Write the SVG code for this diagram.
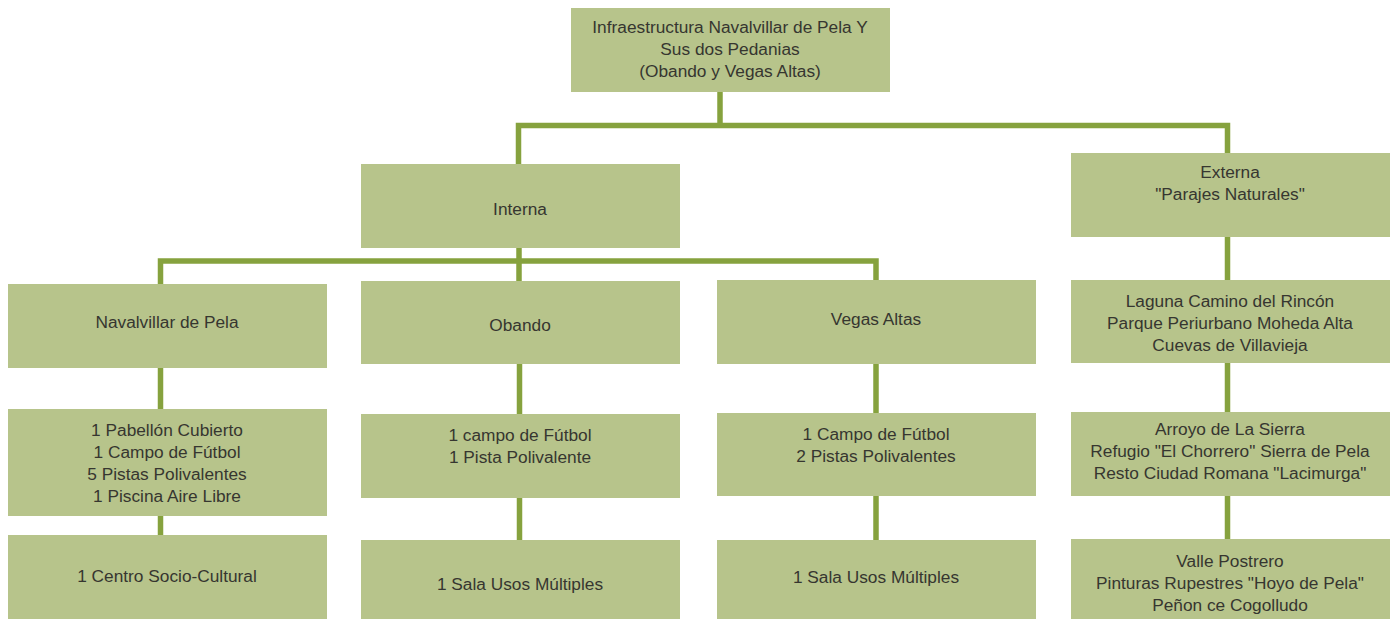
<svg xmlns="http://www.w3.org/2000/svg" width="1393" height="619" viewBox="0 0 1393 619">
<style>
.box{fill:#b7c48b}
.t{font-family:"Liberation Sans",Arial,sans-serif;font-size:17.3px;fill:#363630;text-anchor:middle}
.c{stroke:#86a23e;stroke-width:5.5;fill:none;stroke-linecap:square}
</style>
<rect width="1393" height="619" fill="#ffffff"/>
<g id="connectors">
<path class="c" d="M720 92V125.5M518.5 125.5H1227.5M518.5 125.5V164M1227.5 125.5V153"/>
<path class="c" d="M519 248V261M160.5 261H876M160.5 261V284M519 261V281M876 261V280"/>
<path class="c" d="M160.5 368V409M160.5 516V535"/>
<path class="c" d="M519.5 364V414M519.5 498V540"/>
<path class="c" d="M876 364V413M876 496V540"/>
<path class="c" d="M1227.5 237V280M1227.5 363V412M1227.5 496V539"/>
</g>
<g id="root">
<rect class="box" x="571" y="8" width="319" height="84"/>
<text class="t" x="730" y="32.5">Infraestructura Navalvillar de Pela Y</text>
<text class="t" x="730" y="54.5">Sus dos Pedanias</text>
<text class="t" x="730" y="76.5">(Obando y Vegas Altas)</text>
</g>
<g id="interna">
<rect class="box" x="361" y="164" width="319" height="84"/>
<text class="t" x="520" y="215">Interna</text>
</g>
<g id="externa">
<rect class="box" x="1071" y="153" width="319" height="84"/>
<text class="t" x="1230" y="178">Externa</text>
<text class="t" x="1230" y="200">"Parajes Naturales"</text>
</g>
<g id="navalvillar">
<rect class="box" x="8" y="284" width="319" height="84"/>
<text class="t" x="167" y="328">Navalvillar de Pela</text>
</g>
<g id="obando">
<rect class="box" x="361" y="281" width="319" height="83"/>
<text class="t" x="520" y="331">Obando</text>
</g>
<g id="vegas">
<rect class="box" x="717" y="280" width="319" height="84"/>
<text class="t" x="876" y="324.5">Vegas Altas</text>
</g>
<g id="parajes1">
<rect class="box" x="1071" y="280" width="319" height="83"/>
<text class="t" x="1230" y="307">Laguna Camino del Rincón</text>
<text class="t" x="1230" y="329">Parque Periurbano Moheda Alta</text>
<text class="t" x="1230" y="351">Cuevas de Villavieja</text>
</g>
<g id="nav-deportes">
<rect class="box" x="8" y="409" width="319" height="107"/>
<text class="t" x="167" y="436">1 Pabellón Cubierto</text>
<text class="t" x="167" y="458">1 Campo de Fútbol</text>
<text class="t" x="167" y="480">5 Pistas Polivalentes</text>
<text class="t" x="167" y="502">1 Piscina Aire Libre</text>
</g>
<g id="obando-deportes">
<rect class="box" x="361" y="414" width="319" height="84"/>
<text class="t" x="520" y="441">1 campo de Fútbol</text>
<text class="t" x="520" y="463">1 Pista Polivalente</text>
</g>
<g id="vegas-deportes">
<rect class="box" x="717" y="413" width="319" height="83"/>
<text class="t" x="876" y="439.5">1 Campo de Fútbol</text>
<text class="t" x="876" y="461.5">2 Pistas Polivalentes</text>
</g>
<g id="parajes2">
<rect class="box" x="1071" y="412" width="319" height="84"/>
<text class="t" x="1230" y="435">Arroyo de La Sierra</text>
<text class="t" x="1230" y="457">Refugio "El Chorrero" Sierra de Pela</text>
<text class="t" x="1230" y="479">Resto Ciudad Romana "Lacimurga"</text>
</g>
<g id="nav-centro">
<rect class="box" x="8" y="535" width="319" height="84"/>
<text class="t" x="167" y="582">1 Centro Socio-Cultural</text>
</g>
<g id="obando-sala">
<rect class="box" x="361" y="540" width="319" height="79"/>
<text class="t" x="520" y="590">1 Sala Usos Múltiples</text>
</g>
<g id="vegas-sala">
<rect class="box" x="717" y="540" width="319" height="79"/>
<text class="t" x="876" y="583">1 Sala Usos Múltiples</text>
</g>
<g id="parajes3">
<rect class="box" x="1071" y="539" width="319" height="80"/>
<text class="t" x="1230" y="567">Valle Postrero</text>
<text class="t" x="1230" y="589">Pinturas Rupestres "Hoyo de Pela"</text>
<text class="t" x="1230" y="611">Peñon ce Cogolludo</text>
</g>
</svg>
